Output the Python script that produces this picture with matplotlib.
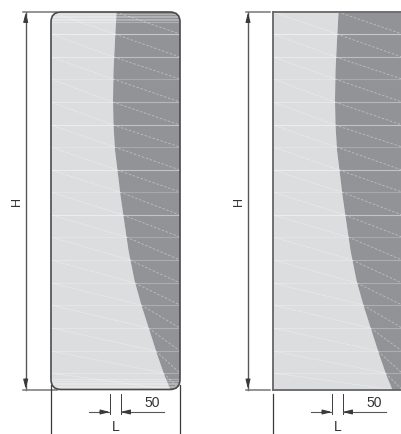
import numpy as np
import matplotlib.pyplot as plt
from matplotlib.patches import FancyBboxPatch, Rectangle

PANEL_W = 129
TOP = 12
BOTTOM = 389.5
RADIUS = 10

curve_x = [65, 63.5, 62, 61.5, 62, 63.5, 66, 69, 72, 77, 83, 90, 98, 106, 113, 119]
curve_y = [12, 40, 70, 100, 125, 150, 170, 195, 216, 250, 280, 305, 330, 355, 375, 389.5]

# horizontal rungs and how strongly each one shows
rung_y = [34, 57, 79, 102, 125, 147, 170, 192, 215, 237, 260, 283, 305, 328, 351, 373]
rung_alpha = [.5, .4, .2, .35, .45, .2, .45, .2, .45, .2, .25, .25, .25, .25, .25, .25]

# tight bundle of lines at the ends of the left panel only
end_lines_top = [14, 15.5, 17, 18.5, 20, 22]
end_lines_bottom = [379, 381, 382.5, 384, 385.5, 387]

dark = '#929396'
light = '#dcddde'
edge = '#4a4a4c'
dim = '#3a3a3c'

fig = plt.figure(figsize=(4.01, 4.34), dpi=100)
ax = fig.add_axes([0, 0, 1, 1])
ax.set_xlim(0, 401)
ax.set_ylim(434, 0)
ax.axis('off')


def draw_panel(x0, rounded):
    if rounded:
        outline = FancyBboxPatch((x0 + RADIUS, TOP + RADIUS), PANEL_W - 2 * RADIUS,
                                 BOTTOM - TOP - 2 * RADIUS,
                                 boxstyle=f'round,pad={RADIUS},rounding_size={RADIUS}',
                                 fc='none', ec='none')
    else:
        outline = Rectangle((x0, TOP), PANEL_W, BOTTOM - TOP, fc='none', ec='none')
    ax.add_patch(outline)

    cx = np.array(curve_x) + x0
    cy = np.array(curve_y)
    clip = [ax.fill_betweenx(cy, x0, cx, color=light, lw=0),
            ax.fill_betweenx(cy, cx, x0 + PANEL_W, color=dark, lw=0)]

    def at(y):
        return np.interp(y, cy, cx)

    rungs = [TOP] + rung_y + [BOTTOM]
    for i, y in enumerate(rung_y):
        clip += ax.plot([x0, x0 + PANEL_W], [y, y], color='white', lw=.8,
                        alpha=rung_alpha[i])
    for y0, y1 in zip(rungs[:-1], rungs[1:]):
        clip += ax.plot([x0, at(y1)], [y0, y1], color='white', lw=.6, alpha=.35,
                        ls=(0, (5, 1)))
        clip += ax.plot([at(y0), x0 + PANEL_W], [y0, y1], color='white', lw=.6, alpha=.4,
                        ls=(0, (3, 2)))
    if rounded:
        for y in end_lines_top + end_lines_bottom:
            clip += ax.plot([x0, x0 + PANEL_W], [y, y], color='white', lw=.6, alpha=.35)
    for artist in clip:
        artist.set_clip_path(outline)

    if rounded:
        outline.set_edgecolor(edge)
        outline.set_linewidth(1.2)
        outline.set_zorder(5)
    else:
        ax.plot([x0, x0], [TOP, BOTTOM], color=edge, lw=1.1)
        ax.plot([x0, x0 + PANEL_W], [TOP, TOP], color='#666668', lw=1.3)
        ax.plot([x0, x0 + PANEL_W], [BOTTOM, BOTTOM], color='#666668', lw=1.3)


def arrow_head(x, y, dx, dy):
    ax.annotate('', xy=(x, y), xytext=(x - dx, y - dy),
                arrowprops=dict(arrowstyle='-|>,head_length=.55,head_width=.14', color=dim,
                                lw=.8, shrinkA=0, shrinkB=0))


def draw_dims(x0, line_x, tick_end, ext_top):
    # H dimension
    ax.plot([line_x, line_x], [TOP, BOTTOM], color='#58585a', lw=1)
    arrow_head(line_x, TOP + .5, 0, -10)
    arrow_head(line_x, BOTTOM - .5, 0, 10)
    ax.plot([line_x - 2.5, tick_end], [TOP, TOP], color='#77777a', lw=1.1)
    ax.plot([line_x - 2.5, tick_end], [BOTTOM, BOTTOM], color='#77777a', lw=1.1)
    ax.text(line_x - 9, 201, 'H', rotation=90, ha='center', va='center', fontsize=9,
            family='Liberation Sans', color='#333333')

    # L / 50 dimension
    xa, xb = x0 + 59, x0 + 69.5
    ax.plot([xa, xa], [394, 414], color=dim, lw=.7)
    ax.plot([xb, xb], [394, 414], color=dim, lw=.7)
    ax.plot([xa - 21, xa], [412, 412], color='#58585a', lw=.8)
    ax.plot([xb, xb + 43], [412, 412], color='#58585a', lw=.8)
    arrow_head(xa, 412, 10, 0)
    arrow_head(xb, 412, -10, 0)
    ax.text(x0 + 101.5, 403, '50', ha='center', va='center', fontsize=10,
            family='Liberation Sans', color='#333333')
    ax.text(x0 + 64.5, 427, 'L', ha='center', va='center', fontsize=10,
            family='Liberation Sans', color='#333333')

    ax.plot([x0, x0], [ext_top, 434], color=dim, lw=.9)


draw_panel(51, True)
draw_panel(273, False)
draw_dims(51, 25.7, 57, 385)
ax.plot([180, 180], [385, 434], color=dim, lw=.9)
draw_dims(273, 248, 270, 394)

plt.savefig('out.png', dpi=100)
